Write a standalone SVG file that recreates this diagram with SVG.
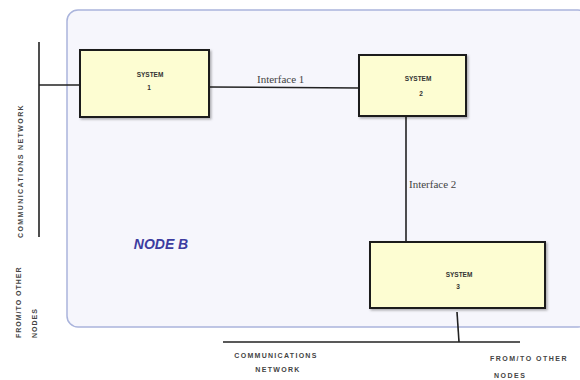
<svg xmlns="http://www.w3.org/2000/svg" width="580" height="380" viewBox="0 0 580 380">
<defs>
<filter id="sh" x="-10%" y="-10%" width="130%" height="130%">
<feDropShadow dx="1.5" dy="1.5" stdDeviation="1" flood-color="#000" flood-opacity="0.3"/>
</filter>
</defs>
<style>
.box{fill:#fdfdd2;stroke:#1a1a1a;stroke-width:2;filter:url(#sh)}
.sys{font-family:"Liberation Sans",Arial,sans-serif;font-weight:bold;font-size:6.5px;fill:#333;text-anchor:middle}
.lbl{font-family:"Liberation Serif","Times New Roman",serif;font-size:11px;fill:#444}
.net{font-family:"Liberation Sans",Arial,sans-serif;font-weight:bold;font-size:7px;fill:#444}
.cn{stroke:#222;stroke-width:1.6;fill:none}
</style>
<rect id="nodeB" x="67" y="10" width="522" height="317" rx="11" fill="#f6f6fc" stroke="#aab4dc" stroke-width="1.5"/>
<text x="161" y="249" font-family="Liberation Sans,Arial,sans-serif" font-weight="bold" font-style="italic" font-size="14" fill="#3c3ca0" text-anchor="middle">NODE B</text>
<g id="connectors">
<line class="cn" x1="39" y1="42" x2="39" y2="237"/>
<line class="cn" x1="39" y1="85" x2="80" y2="85"/>
<line class="cn" x1="209" y1="87" x2="359" y2="88"/>
<line class="cn" x1="406" y1="116" x2="406" y2="242"/>
<line class="cn" x1="457" y1="312" x2="459" y2="342"/>
<line class="cn" x1="223" y1="342" x2="520" y2="342"/>
</g>
<text class="lbl" x="257" y="83">Interface 1</text>
<text class="lbl" x="409" y="188">Interface 2</text>
<g id="system1">
<rect class="box" x="80" y="50" width="129" height="67"/>
<text class="sys" x="150" y="77">SYSTEM</text>
<text class="sys" x="149" y="90">1</text>
</g>
<g id="system2">
<rect class="box" x="359" y="55" width="107" height="61"/>
<text class="sys" x="418" y="81">SYSTEM</text>
<text class="sys" x="421" y="96">2</text>
</g>
<g id="system3">
<rect class="box" x="370" y="242" width="175" height="66"/>
<text class="sys" x="459" y="277">SYSTEM</text>
<text class="sys" x="458" y="289">3</text>
</g>
<g id="labels">
<text class="net" transform="translate(23,171) rotate(-90)" text-anchor="middle" letter-spacing="1.4">COMMUNICATIONS NETWORK</text>
<text class="net" transform="translate(21,338) rotate(-90)" font-weight="normal" font-size="8" letter-spacing="1">FROM/TO OTHER</text>
<text class="net" transform="translate(37,338) rotate(-90)" font-weight="normal" font-size="8" letter-spacing="1">NODES</text>
<text class="net" x="276" y="358" text-anchor="middle" letter-spacing="1.3">COMMUNICATIONS</text>
<text class="net" x="278" y="372" text-anchor="middle" letter-spacing="1.3">NETWORK</text>
<text class="net" x="490" y="361" font-weight="normal" font-size="8" letter-spacing="1.5">FROM/TO OTHER</text>
<text class="net" x="494" y="378" font-weight="normal" font-size="8" letter-spacing="1.5">NODES</text>
</g>
</svg>
